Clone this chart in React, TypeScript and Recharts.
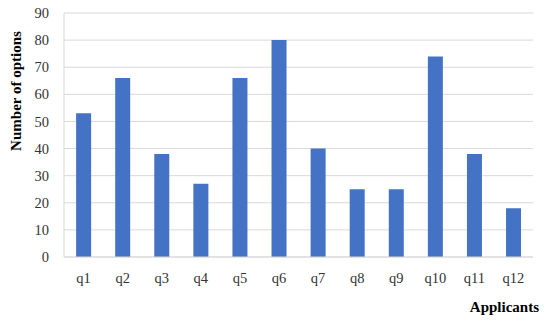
import { BarChart, Bar, XAxis, YAxis, CartesianGrid, Label } from "recharts";

const questions = ["q1", "q2", "q3", "q4", "q5", "q6", "q7", "q8", "q9", "q10", "q11", "q12"];
const optionCounts = [53, 66, 38, 27, 66, 80, 40, 25, 25, 74, 38, 18];
const yTicks = [0, 10, 20, 30, 40, 50, 60, 70, 80, 90];

const data = questions.map((q, i) => ({ name: q, value: optionCounts[i] }));

const FONT = "'Liberation Serif', 'Times New Roman', serif";
const TEXT = "#333";
const GRID = "#d9d9d9";

export default function App() {
  return (
    <div style={{ position: "absolute", left: 0, top: 0, width: 550, height: 321, background: "#fff" }}>
      <BarChart
        width={550}
        height={321}
        data={data}
        margin={{ top: 13, right: 17, left: 0, bottom: 34 }}
        barCategoryGap="31%"
      >
        <CartesianGrid vertical={false} stroke={GRID} />
        <XAxis
          dataKey="name"
          height={30}
          tickLine={false}
          tickSize={0}
          tickMargin={16}
          axisLine={{ stroke: GRID }}
          tick={{ fill: TEXT, fontFamily: FONT, fontSize: 14.5 }}
          interval={0}
        >
          <Label
            content={() => (
              <text
                x={539}
                y={312}
                textAnchor="end"
                fill="#000"
                fontFamily={FONT}
                fontSize={15}
                fontWeight="bold"
              >
                Applicants
              </text>
            )}
          />
        </XAxis>
        <YAxis
          width={64}
          domain={[0, 90]}
          ticks={yTicks}
          interval={0}
          tickLine={false}
          tickSize={0}
          tickMargin={15}
          axisLine={{ stroke: GRID }}
          tick={{ fill: TEXT, fontFamily: FONT, fontSize: 14.5 }}
        >
          <Label
            content={() => (
              <text
                x={21}
                y={91}
                transform="rotate(-90, 21, 91)"
                textAnchor="middle"
                fill="#000"
                fontFamily={FONT}
                fontSize={15}
                fontWeight="bold"
              >
                Number of options
              </text>
            )}
          />
        </YAxis>
        <Bar dataKey="value" fill="#4472C4" isAnimationActive={false} />
      </BarChart>
    </div>
  );
}
